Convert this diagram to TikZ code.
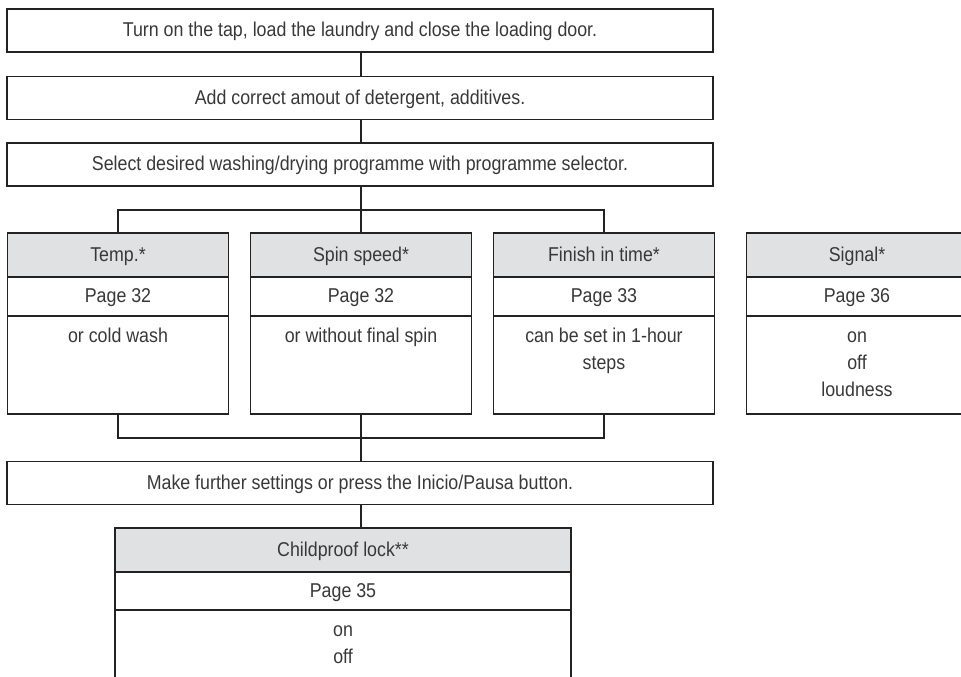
\documentclass[tikz,border=0pt]{standalone}
\usepackage{fontspec}
\setmainfont{Liberation Sans}[FakeStretch=0.89]
\usepackage{xcolor}
\usetikzlibrary{positioning}
\definecolor{headgray}{HTML}{E0E1E3}
\definecolor{inkgray}{HTML}{383838}
\definecolor{linegray}{HTML}{222222}
\tikzset{
  boxtext/.style={text=inkgray, font=\fontsize{20}{27}\selectfont, inner sep=0pt, outer sep=0pt},
  celltext/.style={boxtext, text height=15pt, text depth=3pt},
  stepbox/.style={celltext, draw=linegray, minimum width=706pt, minimum height=43pt},
  headbox/.style={celltext, draw=linegray, fill=headgray, minimum width=221pt, minimum height=44pt},
  pagebox/.style={celltext, draw=linegray, minimum width=221pt, minimum height=39pt},
  bodybox/.style={celltext, draw=linegray, minimum width=221pt, minimum height=98pt},
  bodytext/.style={boxtext, anchor=north, align=center, yshift=-8pt},
}
\begin{document}
\begin{tikzpicture}[x=1pt,y=-1pt,line width=1.7pt,color=linegray]
\useasboundingbox (0,0) rectangle (961,677);
\clip (0,0) rectangle (961,677);
% main steps
\node[stepbox] (step1) at (360,30.5) {Turn on the tap, load the laundry and close the loading door.};
\node[stepbox] (step2) at (360,98) {Add correct amout of detergent, additives.};
\node[stepbox] (step3) at (360,164.5) {Select desired washing/drying programme with programme selector.};
% option columns
\node[headbox] (temphead) at (118,255) {Temp.*};
\node[pagebox] (temppage) [below=0pt of temphead] {Page 32};
\node[bodybox] (tempbody) [below=0pt of temppage] {};
\node[bodytext] (temptext) at (tempbody.north) {\strut or cold wash};
\node[headbox] (spinhead) at (361,255) {Spin speed*};
\node[pagebox] (spinpage) [below=0pt of spinhead] {Page 32};
\node[bodybox] (spinbody) [below=0pt of spinpage] {};
\node[bodytext] (spintext) at (spinbody.north) {\strut or without final spin};
\node[headbox] (finhead) at (604,255) {Finish in time*};
\node[pagebox] (finpage) [below=0pt of finhead] {Page 33};
\node[bodybox] (finbody) [below=0pt of finpage] {};
\node[bodytext] (fintext) at (finbody.north) {\strut can be set in 1-hour\\steps};
\node[headbox] (sighead) at (857,255) {Signal*};
\node[pagebox] (sigpage) [below=0pt of sighead] {Page 36};
\node[bodybox] (sigbody) [below=0pt of sigpage] {};
\node[bodytext] (sigtext) at (sigbody.north) {\strut on\\off\\loudness};
% further settings
\node[stepbox] (further) at (360,483) {Make further settings or press the Inicio/Pausa button.};
\node[headbox, minimum width=456pt] (childhead) at (343,550) {Childproof lock**};
\node[pagebox, minimum width=456pt, minimum height=38pt] (childpage) [below=0pt of childhead] {Page 35};
\node[bodybox, minimum width=456pt, minimum height=100pt] (childbody) [below=0pt of childpage] {};
\node[bodytext] (childtext) at (childbody.north) {\strut on\\off};
% connectors
\coordinate (split) at (361,210);
\coordinate (join) at (361,438);
\draw (step1.south -| split) -- (step2.north -| split);
\draw (step2.south -| split) -- (step3.north -| split);
\draw (step3.south -| split) -- (split);
\draw (temphead.north) |- (split) -| (finhead.north);
\draw (split) -- (spinhead.north);
\draw (tempbody.south) |- (join) -| (finbody.south);
\draw (spinbody.south) -- (join) -- (further.north -| join);
\draw (further.south -| join) -- (childhead.north -| join);
\end{tikzpicture}
\end{document}
